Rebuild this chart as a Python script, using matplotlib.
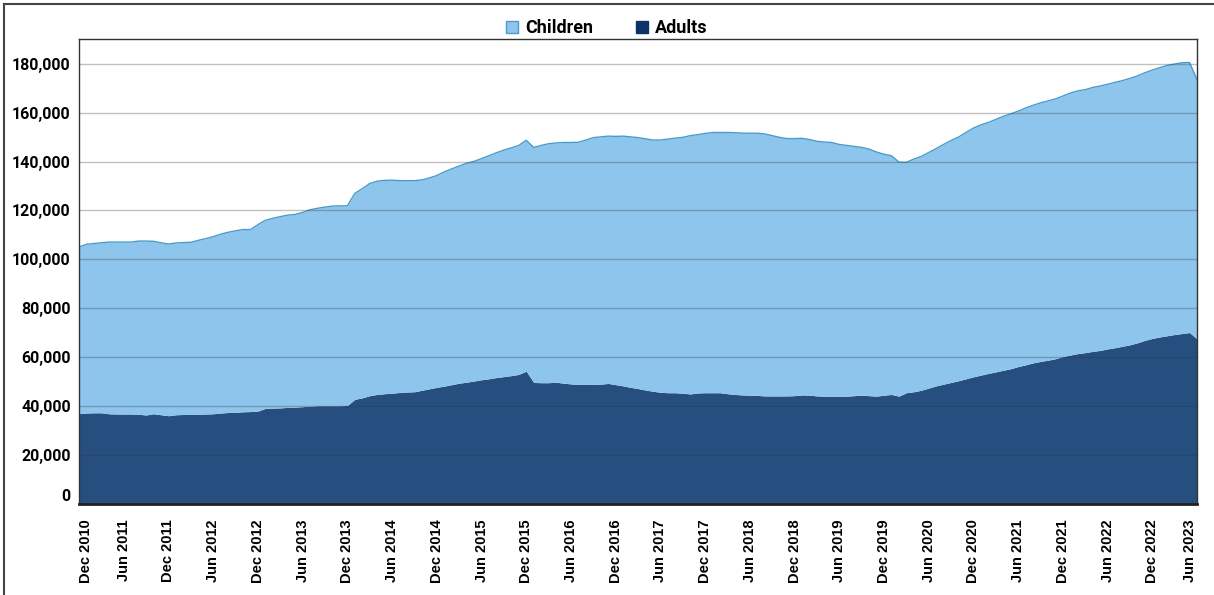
import numpy as np
import matplotlib.pyplot as plt
from matplotlib.lines import Line2D
from matplotlib.patches import Patch
from matplotlib.ticker import FuncFormatter

# Monthly counts, Dec 2010 .. Jun 2023 (thousands)
total_k = [
    105.1, 106.2, 106.5, 106.8, 107.1, 107.1, 107.1, 107.1, 107.5, 107.5,
    107.4, 106.8, 106.3, 106.7, 106.9, 107.0, 107.8, 108.5, 109.3, 110.3,
    111.1, 111.7, 112.2, 112.2, 114.2, 116.0, 116.8, 117.5, 118.1, 118.4,
    119.2, 120.3, 120.9, 121.4, 121.8, 121.9, 121.9, 127.0, 128.9, 131.0,
    132.0, 132.3, 132.4, 132.2, 132.2, 132.2, 132.5, 133.3, 134.3, 135.8,
    137.0, 138.2, 139.3, 140.1, 141.2, 142.4, 143.6, 144.7, 145.6, 146.6,
    148.7, 145.8, 146.6, 147.3, 147.6, 147.8, 147.8, 147.9, 148.8, 149.8,
    150.1, 150.4, 150.3, 150.4, 150.1, 149.8, 149.3, 148.8, 148.8, 149.2,
    149.6, 149.9, 150.6, 151.0, 151.5, 151.9, 151.9, 151.9, 151.8, 151.6,
    151.6, 151.6, 151.3, 150.6, 149.9, 149.4, 149.4, 149.5, 149.0, 148.3,
    148.0, 147.8, 147.0, 146.6, 146.2, 145.8, 145.1, 143.9, 143.0, 142.4,
    139.8, 139.7, 141.0, 142.1, 143.7, 145.3, 147.0, 148.6, 150.0, 151.9,
    153.7, 155.0, 156.0, 157.2, 158.5, 159.5, 160.6, 161.9, 163.0, 164.0,
    164.8, 165.6, 166.8, 168.0, 168.9, 169.4, 170.3, 170.9, 171.6, 172.4,
    173.1, 174.0, 175.0, 176.3, 177.4, 178.4, 179.3, 179.9, 180.4, 180.5,
    173.5,
]

adults_k = [
    37.0, 37.2, 37.3, 37.3, 36.9, 36.8, 36.8, 36.8, 36.7, 36.4,
    36.9, 36.5, 36.1, 36.5, 36.6, 36.7, 36.7, 36.8, 36.9, 37.2,
    37.4, 37.5, 37.7, 37.8, 38.0, 39.1, 39.2, 39.3, 39.5, 39.6,
    39.8, 40.0, 40.2, 40.2, 40.2, 40.2, 40.3, 42.8, 43.4, 44.3,
    44.8, 45.1, 45.3, 45.6, 45.8, 45.9, 46.5, 47.1, 47.7, 48.2,
    48.8, 49.4, 49.8, 50.3, 50.8, 51.2, 51.7, 52.1, 52.5, 53.0,
    54.3, 49.7, 49.6, 49.6, 49.8, 49.4, 49.1, 48.9, 48.9, 48.9,
    49.0, 49.3, 48.8, 48.3, 47.7, 47.2, 46.6, 46.1, 45.7, 45.5,
    45.5, 45.3, 45.0, 45.4, 45.5, 45.5, 45.5, 45.1, 44.8, 44.6,
    44.5, 44.4, 44.2, 44.2, 44.2, 44.2, 44.3, 44.6, 44.5, 44.2,
    44.1, 44.1, 44.1, 44.1, 44.3, 44.5, 44.3, 44.1, 44.5, 44.8,
    44.1, 45.5, 45.9, 46.5, 47.4, 48.3, 49.0, 49.7, 50.4, 51.2,
    52.0, 52.7, 53.4, 54.0, 54.7, 55.3, 56.2, 56.9, 57.7, 58.3,
    58.8, 59.4, 60.3, 60.9, 61.5, 61.9, 62.4, 62.8, 63.4, 63.9,
    64.5, 65.1, 65.9, 66.9, 67.7, 68.3, 68.8, 69.3, 69.7, 70.1,
    67.5,
]

month_names = ["Dec", "Jun"]
tick_labels = [f"{month_names[k % 2]} {2010 + (k + 1) // 2}" for k in range(26)]

adults = np.array(adults_k) * 1000
children = (np.array(total_k) - np.array(adults_k)) * 1000
x = np.arange(len(adults))

light = "#8EC5EC"
light_edge = "#4A9BCB"
dark = "#264F80"

fig = plt.figure(figsize=(12.14, 5.95), dpi=100)
ax = fig.add_axes([0.0651, 0.1529, 0.9209, 0.7811])

ax.fill_between(x, 0, adults, color=dark, linewidth=0, zorder=2)
ax.fill_between(x, adults, adults + children, color=light, linewidth=0, zorder=2)
ax.plot(x, adults + children, color=light_edge, linewidth=1.0, zorder=3)

ax.set_xlim(0, len(x) - 1)
ax.set_ylim(0, 190000)
ax.set_yticks(np.arange(0, 180001, 20000))
ax.yaxis.set_major_formatter(FuncFormatter(lambda v, p: f"{int(v):,}"))

# grid sits on top of the fills so it shows through faintly
for v in range(20000, 180001, 20000):
    ax.axhline(v, color="#333333", alpha=0.3, linewidth=1.0, zorder=4)

ax.set_xticks(np.arange(0, len(x), 6))
ax.set_xticklabels(tick_labels, rotation=90, fontsize=10.5, fontweight="bold",
                   family="Liberation Sans")
ax.tick_params(axis="both", length=0)
ax.tick_params(axis="x", pad=11)
ax.tick_params(axis="y", pad=6)
for lab in ax.get_yticklabels():
    lab.set_fontsize(11.5)
    lab.set_fontweight("bold")
    lab.set_family("Roboto")
ylabs = ax.get_yticklabels()
ylabs[0].set_va("bottom")

xlabs = ax.get_xticklabels()
xlabs[0].set_ha("left")
xlabs[-1].set_ha("right")

for name, sp in ax.spines.items():
    sp.set_color("#333333")
    sp.set_linewidth(1.0)
    sp.set_zorder(5)
ax.spines["bottom"].set_linewidth(2.0)
ax.spines["bottom"].set_color("#222222")

handles = [
    Patch(facecolor=light, edgecolor=light_edge, linewidth=1.0, label="Children"),
    Patch(facecolor="#0B3366", edgecolor="#0B3366", label="Adults"),
]
fig.legend(handles=handles, loc="upper center", bbox_to_anchor=(0.5, 0.995),
           ncol=2, frameon=False, handlelength=0.65, handleheight=0.65,
           handletextpad=0.4, columnspacing=2.4,
           prop={"family": "Roboto", "weight": "bold", "size": 13})

# outer frame along the left and top edges
fig.add_artist(Line2D([0.003, 0.003], [0.0, 0.994], transform=fig.transFigure,
                      color="#444444", linewidth=1.5))
fig.add_artist(Line2D([0.003, 1.0], [0.994, 0.994], transform=fig.transFigure,
                      color="#444444", linewidth=1.5))

fig.savefig("out.png", dpi=100)
plt.close(fig)
